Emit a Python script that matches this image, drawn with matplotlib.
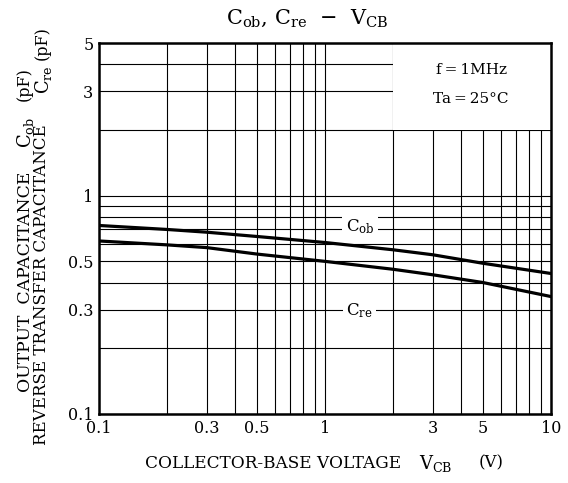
import matplotlib
matplotlib.use("Agg")
import matplotlib.pyplot as plt
from matplotlib.patches import Rectangle
from matplotlib.ticker import FixedLocator, NullFormatter, LogLocator

plt.rcParams['font.family'] = 'DejaVu Serif'
plt.rcParams['mathtext.fontset'] = 'dejavuserif'

# values
vcb = [0.1, 0.2, 0.3, 0.5, 1, 2, 3, 5, 10]
cob = [0.73, 0.70, 0.68, 0.65, 0.61, 0.565, 0.536, 0.49, 0.44]
cre = [0.62, 0.595, 0.578, 0.54, 0.50, 0.46, 0.434, 0.40, 0.345]

x_ticks = [0.1, 0.3, 0.5, 1, 3, 5, 10]
x_labels = ["0.1", "0.3", "0.5", "1", "3", "5", "10"]
y_ticks = [0.1, 0.3, 0.5, 1, 3, 5]
y_labels = ["0.1", "0.3", "0.5", "1", "3", "5"]

fig = plt.figure(figsize=(5.68, 4.83), dpi=100)
ax = fig.add_axes([99 / 568, 1 - 414 / 483, 452 / 568, 371 / 483])
ax.set_xscale('log')
ax.set_yscale('log')
ax.set_xlim(0.1, 10)
ax.set_ylim(0.1, 5)

ax.xaxis.set_major_locator(FixedLocator(x_ticks))
ax.set_xticklabels(x_labels)
ax.yaxis.set_major_locator(FixedLocator(y_ticks))
ax.set_yticklabels(y_labels)
ax.xaxis.set_minor_locator(LogLocator(base=10, subs=range(1, 10)))
ax.yaxis.set_minor_locator(LogLocator(base=10, subs=range(1, 10)))
ax.xaxis.set_minor_formatter(NullFormatter())
ax.yaxis.set_minor_formatter(NullFormatter())
ax.tick_params(which='both', length=0, labelsize=11.5, pad=4, colors='black')

ax.set_axisbelow(True)
ax.grid(True, which='both', color='black', linewidth=0.8)
for s in ax.spines.values():
    s.set_linewidth(1.8)

# blank area behind the conditions text
ax.add_patch(Rectangle((2, 2), 8, 3, facecolor='white', edgecolor='none', zorder=1))

ax.plot(vcb, cob, color='black', linewidth=2.3, zorder=2)
ax.plot(vcb, cre, color='black', linewidth=2.3, zorder=2)

box = dict(facecolor='white', edgecolor='none', pad=2.5)
ax.text(1.43, 0.72, r"$\mathrm{C_{ob}}$", fontsize=12, ha='center', va='center', bbox=box, zorder=3)
ax.text(1.42, 0.297, r"$\mathrm{C_{re}}$", fontsize=12, ha='center', va='center', bbox=box, zorder=3)

ax.text(4.43, 3.78, "f\u2009=\u20091MHz", fontsize=11, ha='center', va='center', zorder=3)
ax.text(4.43, 2.76, "Ta\u2009=\u200925\u00b0C", fontsize=11, ha='center', va='center', zorder=3)

fig.text(307 / 568, 1 - 18 / 483, r"$\mathrm{C_{ob}}$, $\mathrm{C_{re}}$  $-$  $\mathrm{V_{CB}}$",
         fontsize=15, ha='center', va='center')

# x label pieces
fig.text(145 / 568, 1 - 463 / 483, "COLLECTOR-BASE VOLTAGE", fontsize=12.2, ha='left', va='center')
fig.text(436 / 568, 1 - 463 / 483, r"$\mathrm{V_{CB}}$", fontsize=13, ha='center', va='center')
fig.text(491 / 568, 1 - 463 / 483, "(V)", fontsize=12, ha='center', va='center')

# y label pieces (two columns)
fig.text(26 / 568, 1 - 392 / 483, "OUTPUT  CAPACITANCE", fontsize=12.4, rotation=90, ha='center', va='bottom')
fig.text(25 / 568, 1 - 132 / 483, r"$\mathrm{C_{ob}}$", fontsize=13, rotation=90, ha='center', va='center')
fig.text(24 / 568, 1 - 84 / 483, "(pF)", fontsize=11.5, rotation=90, ha='center', va='center')
fig.text(42 / 568, 1 - 445 / 483, "REVERSE TRANSFER CAPACITANCE", fontsize=12, rotation=90, ha='center', va='bottom')
fig.text(43 / 568, 1 - 80 / 483, r"$\mathrm{C_{re}}$", fontsize=13, rotation=90, ha='center', va='center')
fig.text(42 / 568, 1 - 43 / 483, "(pF)", fontsize=11.5, rotation=90, ha='center', va='center')

fig.savefig("out.png", dpi=100)
